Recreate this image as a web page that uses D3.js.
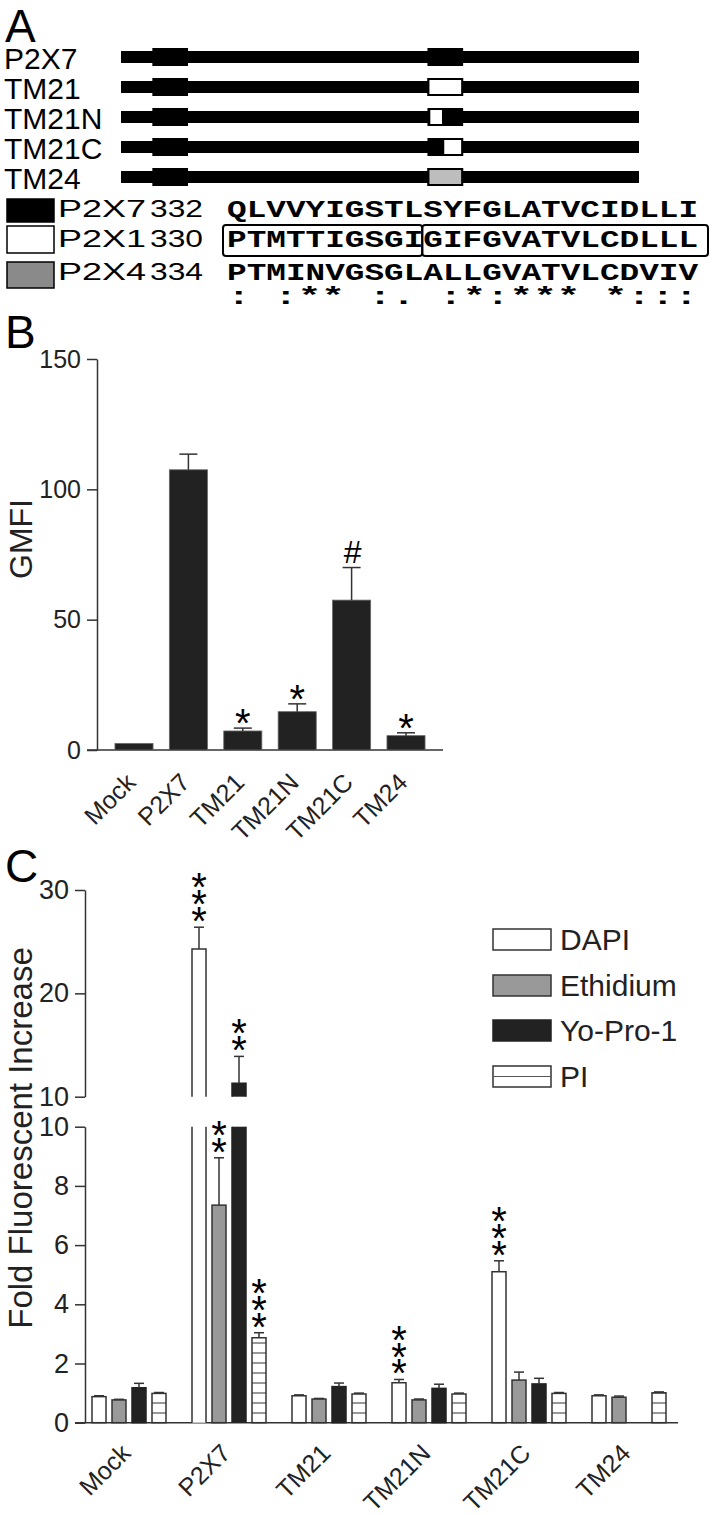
<!DOCTYPE html>
<html>
<head>
<meta charset="utf-8">
<script src="https://cdn.jsdelivr.net/npm/d3@7"></script>
<style>
  body { margin: 0; background: #fff; }
  svg { display: block; font-family: "Liberation Sans", Arial, sans-serif; }
</style>
</head>
<body>
<div id="figure"></div>
<script>
const constructs = ["P2X7", "TM21", "TM21N", "TM21C", "TM24"];
const proteinSpan = [0, 595];
const tm1Span = [36, 77];
const tm2Span = [352, 393];
const swapStart = [null, 352, 353, 369, 352];
const swapEnd = [null, 393, 371, 393, 393];
const swapSource = [null, "P2X1", "P2X1", "P2X1", "P2X4"];

// ---- panel A: alignment
const seqNames = ["P2X7", "P2X1", "P2X4"];
const seqStarts = ["332", "330", "334"];
const sequences = [
  "QLVVYIGSTLSYFGLATVCIDLLI",
  "PTMTTIGSGIGIFGVATVLCDLLL",
  "PTMINVGSGLALLGVATVLCDVIV"
];
const conservation = "  :  :** :. :*:***  *:::";

// ---- panel B
const gmfiGroups = ["Mock", "P2X7", "TM21", "TM21N", "TM21C", "TM24"];
const gmfiMean = [2.5, 107.5, 7.3, 14.7, 57.5, 5.5];
const gmfiErr = [0, 6, 1.1, 3, 12.5, 1.1];
const gmfiMarks = ["", "", "*", "*", "#", "*"];
const gmfiTicks = [0, 50, 100, 150];

// ---- panel C
const dyes = ["DAPI", "Ethidium", "Yo-Pro-1", "PI"];
const dapiMean = [0.88, 24.3, 0.91, 1.35, 5.1, 0.91];
const dapiErr = [0.03, 2.1, 0.03, 0.11, 0.37, 0.03];
const ethidiumMean = [0.77, 7.35, 0.8, 0.77, 1.44, 0.86];
const ethidiumErr = [0.02, 1.6, 0.02, 0.03, 0.27, 0.04];
const yoproMean = [1.18, 11.3, 1.22, 1.16, 1.31, null];
const yoproErr = [0.15, 2.6, 0.12, 0.14, 0.19, null];
const piMean = [0.99, 2.87, 0.97, 0.97, 0.99, 1.01];
const piErr = [0.03, 0.17, 0.03, 0.03, 0.03, 0.03];
const dapiSig = ["", "***", "", "***", "***", ""];
const ethidiumSig = ["", "**", "", "", "", ""];
const yoproSig = ["", "**", "", "", "", ""];
const piSig = ["", "***", "", "", "", ""];
const lowerTicks = [0, 2, 4, 6, 8, 10];
const upperTicks = [10, 20, 30];

const W = 716, H = 1515;
const ink = "#222", axisColor = "#333";

const svg = d3.select("#figure").append("svg")
  .attr("width", W)
  .attr("height", H)
  .attr("viewBox", `0 0 ${W} ${H}`);

svg.append("rect").attr("width", W).attr("height", H).attr("fill", "#fff");

// panel letters
[["A", 42], ["B", 348], ["C", 882]].forEach(([t, y]) => {
  svg.append("text").attr("x", 5).attr("y", y)
    .style("font-size", "46px").attr("fill", "#000").text(t);
});

// ================= Panel A =================
const sourceFill = { P2X7: "#000", P2X1: "#fff", P2X4: "#bdbdbd" };
const legendFill = { P2X7: "#000", P2X1: "#fff", P2X4: "#8a8a8a" };

const xA = d3.scaleLinear().domain(proteinSpan).range([121, 639]);
const yA = d3.scalePoint().domain(constructs).range([57, 177]);

const rows = svg.append("g").selectAll("g")
  .data(constructs)
  .enter().append("g")
  .attr("transform", d => `translate(0,${yA(d)})`);

rows.append("text")
  .attr("x", 4).attr("y", 12)
  .style("font-size", "30px")
  .text(d => d);

rows.append("rect")
  .attr("x", xA(proteinSpan[0])).attr("y", -6)
  .attr("width", xA(proteinSpan[1]) - xA(proteinSpan[0])).attr("height", 12)
  .attr("fill", "#000");

rows.append("rect")
  .attr("x", xA(tm1Span[0])).attr("y", -9)
  .attr("width", xA(tm1Span[1]) - xA(tm1Span[0])).attr("height", 18)
  .attr("fill", "#000");

rows.append("rect")
  .attr("x", xA(tm2Span[0])).attr("y", -9)
  .attr("width", xA(tm2Span[1]) - xA(tm2Span[0])).attr("height", 18)
  .attr("fill", "#000");

rows.filter((d, i) => swapSource[i] !== null)
  .append("rect")
  .attr("x", d => xA(swapStart[constructs.indexOf(d)]) + 1)
  .attr("y", -8)
  .attr("width", d => {
    const i = constructs.indexOf(d);
    return xA(swapEnd[i]) - xA(swapStart[i]) - 2;
  })
  .attr("height", 16)
  .attr("fill", d => sourceFill[swapSource[constructs.indexOf(d)]])
  .attr("stroke", "#000")
  .attr("stroke-width", 2);

// alignment block
const xSeq = d3.scaleBand().domain(d3.range(sequences[0].length)).range([227, 698]);
const seqBase = [217, 247, 280];
const swatchTop = [199, 226, 262];
const swatchH = [23, 27, 26];

const seqRows = svg.append("g").selectAll("g")
  .data(seqNames)
  .enter().append("g");

seqRows.append("rect")
  .attr("x", 7).attr("y", (d, i) => swatchTop[i])
  .attr("width", 47).attr("height", (d, i) => swatchH[i])
  .attr("fill", d => legendFill[d])
  .attr("stroke", "#000").attr("stroke-width", 1.5);

seqRows.append("text")
  .attr("x", 58).attr("y", (d, i) => seqBase[i])
  .attr("textLength", 88).attr("lengthAdjust", "spacingAndGlyphs")
  .style("font-size", "24px")
  .text(d => d);

seqRows.append("text")
  .attr("x", 150).attr("y", (d, i) => seqBase[i])
  .attr("textLength", 53).attr("lengthAdjust", "spacingAndGlyphs")
  .style("font-size", "24px")
  .text((d, i) => seqStarts[i]);

const monoStyle = sel => sel
  .style("font-family", "'Liberation Mono', 'DejaVu Sans Mono', monospace")
  .style("font-weight", "bold")
  .style("font-size", "24px")
  .attr("textLength", xSeq.range()[1] - xSeq.range()[0])
  .attr("lengthAdjust", "spacingAndGlyphs");

seqRows.append("text")
  .attr("x", xSeq(0)).attr("y", (d, i) => seqBase[i])
  .call(monoStyle)
  .text((d, i) => sequences[i]);

svg.append("text")
  .attr("x", xSeq(0)).attr("y", 304)
  .call(monoStyle)
  .text(conservation);

// boxes around the P2X1 segments swapped into TM21N / TM21C
[[0, 9], [10, 23]].forEach(([a, b], k) => {
  const x0 = k === 0 ? xSeq(a) - 4 : xSeq(a) - 1;
  const x1 = k === 0 ? xSeq(b) + xSeq.bandwidth() - 1 : xSeq(b) + xSeq.bandwidth() + 10;
  svg.append("rect")
    .attr("x", x0).attr("y", 225)
    .attr("width", x1 - x0).attr("height", 31)
    .attr("rx", 3)
    .attr("fill", "none").attr("stroke", "#000").attr("stroke-width", 2);
});

// ================= Panel B =================
const xB = d3.scaleBand().domain(gmfiGroups).range([106.8, 433.2])
  .paddingInner(0.3).paddingOuter(0.15);
const yB = d3.scaleLinear().domain([0, 150]).range([750, 359]);

const styleAxis = (g, size) => {
  g.select(".domain").attr("stroke", axisColor).attr("stroke-width", 1.5);
  g.selectAll(".tick line").attr("stroke", axisColor).attr("stroke-width", 1.5);
  g.selectAll(".tick text").attr("fill", "#222")
    .style("font-family", "'Liberation Sans', Arial, sans-serif")
    .style("font-size", size);
};

svg.append("g")
  .attr("transform", "translate(97,0)")
  .call(d3.axisLeft(yB).tickValues(gmfiTicks).tickSize(10).tickSizeOuter(0).tickPadding(6))
  .call(g => styleAxis(g, "25px"));

svg.append("line")
  .attr("x1", 87).attr("x2", 443)
  .attr("y1", yB(0)).attr("y2", yB(0))
  .attr("stroke", axisColor).attr("stroke-width", 1.5);

svg.append("text")
  .attr("transform", "translate(32,539) rotate(-90)")
  .attr("text-anchor", "middle")
  .style("font-size", "32px")
  .attr("fill", "#222")
  .text("GMFI");

const bData = gmfiGroups.map((g, i) => ({ g, v: gmfiMean[i], e: gmfiErr[i], m: gmfiMarks[i] }));

svg.append("g").selectAll("rect")
  .data(bData)
  .enter().append("rect")
  .attr("x", d => xB(d.g))
  .attr("y", d => yB(d.v))
  .attr("width", xB.bandwidth())
  .attr("height", d => yB(0) - yB(d.v))
  .attr("fill", ink)
  .attr("stroke", "#666").attr("stroke-width", 0.8);

const bErr = svg.append("g").selectAll("g")
  .data(bData.filter(d => d.e > 0))
  .enter().append("g")
  .attr("stroke", axisColor).attr("stroke-width", 1.5);
bErr.append("line")
  .attr("x1", d => xB(d.g) + xB.bandwidth() / 2)
  .attr("x2", d => xB(d.g) + xB.bandwidth() / 2)
  .attr("y1", d => yB(d.v)).attr("y2", d => yB(d.v + d.e));
bErr.append("line")
  .attr("x1", d => xB(d.g) + xB.bandwidth() / 2 - 9)
  .attr("x2", d => xB(d.g) + xB.bandwidth() / 2 + 9)
  .attr("y1", d => yB(d.v + d.e)).attr("y2", d => yB(d.v + d.e));

svg.append("g").selectAll("text")
  .data(bData.filter(d => d.m))
  .enter().append("text")
  .attr("x", d => xB(d.g) + xB.bandwidth() / 2 + (d.m === "#" ? 1 : 0))
  .attr("y", d => d.m === "#" ? yB(d.v + d.e) - 5 : yB(d.v + d.e) + 9)
  .attr("text-anchor", "middle")
  .style("font-size", d => d.m === "#" ? "32px" : "40px")
  .attr("fill", "#000")
  .text(d => d.m);

svg.append("g").selectAll("text")
  .data(gmfiGroups)
  .enter().append("text")
  .attr("transform", d => `translate(${xB(d) + xB.bandwidth() / 2 + 3},${yB(0) + 34}) rotate(-45)`)
  .attr("text-anchor", "end")
  .style("font-size", "25px")
  .attr("fill", "#222")
  .text(d => d);

// ================= Panel C =================
const defs = svg.append("defs");
defs.append("pattern")
  .attr("id", "hlines")
  .attr("patternUnits", "userSpaceOnUse")
  .attr("width", 10).attr("height", 10)
  .call(p => {
    p.append("rect").attr("width", 10).attr("height", 10).attr("fill", "#fff");
    p.append("line").attr("x1", 0).attr("x2", 10).attr("y1", 3).attr("y2", 3)
      .attr("stroke", "#777").attr("stroke-width", 1.5);
  });

const dyeFill = { "DAPI": "#fff", "Ethidium": "#999", "Yo-Pro-1": ink, "PI": "url(#hlines)" };
const dyeStroke = { "DAPI": "#333", "Ethidium": "#333", "Yo-Pro-1": ink, "PI": "#333" };

const xC = d3.scaleBand().domain(gmfiGroups).range([79, 679])
  .paddingInner(0.2).paddingOuter(0.1);
const xDye = d3.scaleBand().domain(dyes).range([0, xC.bandwidth()])
  .paddingInner(0.3).paddingOuter(0.15);
const yLow = d3.scaleLinear().domain([0, 10]).range([1422.7, 1126.7]);
const yHigh = d3.scaleLinear().domain([10, 30]).range([1096.7, 890]);
const yC = v => v > 10 ? yHigh(v) : yLow(v);

svg.append("g")
  .attr("transform", "translate(85,0)")
  .call(d3.axisLeft(yLow).tickValues(lowerTicks).tickSize(10).tickSizeOuter(0).tickPadding(6))
  .call(g => styleAxis(g, "27px"));
svg.append("g")
  .attr("transform", "translate(85,0)")
  .call(d3.axisLeft(yHigh).tickValues(upperTicks).tickSize(10).tickSizeOuter(0).tickPadding(6))
  .call(g => styleAxis(g, "27px"));

svg.append("line")
  .attr("x1", 75).attr("x2", 678)
  .attr("y1", yLow(0)).attr("y2", yLow(0))
  .attr("stroke", axisColor).attr("stroke-width", 1.5);

svg.append("text")
  .attr("transform", "translate(32,1138) rotate(-90)")
  .attr("text-anchor", "middle")
  .style("font-size", "33px")
  .attr("fill", "#222")
  .text("Fold Fluorescent Increase");

const series = [
  { dye: "DAPI", mean: dapiMean, err: dapiErr, sig: dapiSig },
  { dye: "Ethidium", mean: ethidiumMean, err: ethidiumErr, sig: ethidiumSig },
  { dye: "Yo-Pro-1", mean: yoproMean, err: yoproErr, sig: yoproSig },
  { dye: "PI", mean: piMean, err: piErr, sig: piSig }
];

const cData = [];
gmfiGroups.forEach((g, i) => {
  series.forEach(s => {
    if (s.mean[i] !== null) {
      cData.push({ g, dye: s.dye, v: s.mean[i], e: s.err[i], sig: s.sig[i] });
    }
  });
});

const bx = d => xC(d.g) + xDye(d.dye);
const bw = xDye.bandwidth();

const cBars = svg.append("g").selectAll("g")
  .data(cData)
  .enter().append("g");

// bars that fit below the break
cBars.filter(d => d.v <= 10).append("rect")
  .attr("x", d => bx(d)).attr("y", d => yLow(d.v))
  .attr("width", bw).attr("height", d => yLow(0) - yLow(d.v))
  .attr("fill", d => dyeFill[d.dye])
  .attr("stroke", d => dyeStroke[d.dye]).attr("stroke-width", 1.5);

// bars that run through the axis break
const tall = cBars.filter(d => d.v > 10);
tall.append("rect")
  .attr("x", d => bx(d)).attr("y", yLow(10))
  .attr("width", bw).attr("height", yLow(0) - yLow(10))
  .attr("fill", d => dyeFill[d.dye]);
tall.append("rect")
  .attr("x", d => bx(d)).attr("y", d => yHigh(d.v))
  .attr("width", bw).attr("height", d => yHigh(10) - yHigh(d.v))
  .attr("fill", d => dyeFill[d.dye]);
tall.append("path")
  .attr("d", d => `M${bx(d)},${yLow(0)}V${yLow(10)}M${bx(d) + bw},${yLow(0)}V${yLow(10)}` +
    `M${bx(d)},${yHigh(10)}V${yHigh(d.v)}H${bx(d) + bw}V${yHigh(10)}`)
  .attr("fill", "none")
  .attr("stroke", d => dyeStroke[d.dye]).attr("stroke-width", 1.5);

// error bars
const cErr = cBars.filter(d => d.e > 0).append("g")
  .attr("stroke", axisColor).attr("stroke-width", 1.5);
cErr.append("line")
  .attr("x1", d => bx(d) + bw / 2).attr("x2", d => bx(d) + bw / 2)
  .attr("y1", d => yC(d.v)).attr("y2", d => yC(d.v + d.e));
cErr.append("line")
  .attr("x1", d => bx(d) + bw / 2 - 5).attr("x2", d => bx(d) + bw / 2 + 5)
  .attr("y1", d => yC(d.v + d.e)).attr("y2", d => yC(d.v + d.e));

// significance stars: one text run going up, each glyph turned back upright
cBars.filter(d => d.sig).append("text")
  .attr("transform", d => `translate(${bx(d) + bw / 2 - 7.8},${yC(d.v + d.e) + 8}) rotate(-90)`)
  .attr("rotate", "90")
  .style("font-size", "40px")
  .style("letter-spacing", "1.4px")
  .attr("fill", "#000")
  .text(d => d.sig);

svg.append("g").selectAll("text")
  .data(gmfiGroups)
  .enter().append("text")
  .attr("transform", d => `translate(${xC(d) + xC.bandwidth() / 2 + 3},${yLow(0) + 32}) rotate(-45)`)
  .attr("text-anchor", "end")
  .style("font-size", "25px")
  .attr("fill", "#222")
  .text(d => d);

// legend
const legendTop = [929, 975, 1020, 1066];
const leg = svg.append("g").selectAll("g")
  .data(dyes)
  .enter().append("g")
  .attr("transform", (d, i) => `translate(493,${legendTop[i]})`);
leg.append("rect")
  .attr("width", 58).attr("height", 21)
  .attr("fill", d => d === "PI" ? "#fff" : dyeFill[d])
  .attr("stroke", d => dyeStroke[d]).attr("stroke-width", 1.5);
leg.filter(d => d === "PI").append("line")
  .attr("x1", 0).attr("x2", 58).attr("y1", 10.5).attr("y2", 10.5)
  .attr("stroke", "#555").attr("stroke-width", 1.2);
leg.append("text")
  .attr("x", 67).attr("y", 21)
  .style("font-size", "30px")
  .attr("fill", "#222")
  .text(d => d);
</script>
</body>
</html>
